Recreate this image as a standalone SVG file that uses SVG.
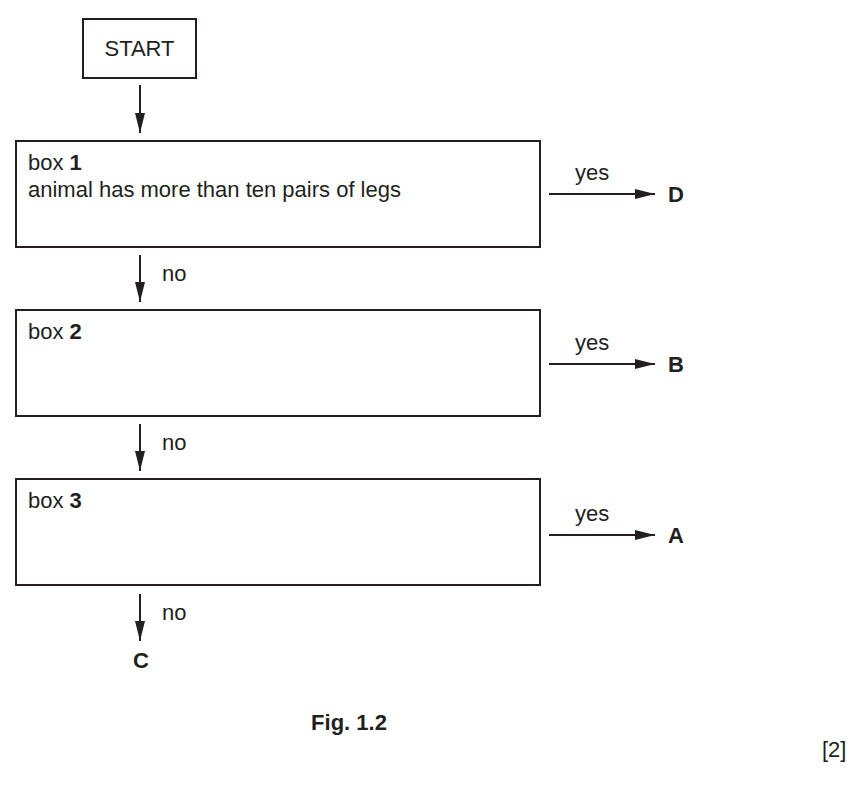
<svg xmlns="http://www.w3.org/2000/svg" width="868" height="785" viewBox="0 0 868 785">
<style>
rect{fill:#fff;stroke:#231f20;stroke-width:2}
text{font-family:"Liberation Sans",Arial,sans-serif;font-size:22px;fill:#231f20}
.b{font-weight:bold}
line{stroke:#231f20;stroke-width:2}
</style>
<defs><marker id="h" markerWidth="20" markerHeight="10" refX="20" refY="5" orient="auto" markerUnits="userSpaceOnUse" viewBox="0 0 20 10"><path d="M0,0L20,5L0,10z" fill="#231f20"/></marker></defs>
<g id="start"><rect x="83" y="19" width="113" height="59"/><text x="139.5" y="56" text-anchor="middle">START</text></g>
<g id="box1"><rect x="16" y="141" width="524" height="106"/><text x="28" y="170">box <tspan class="b">1</tspan></text><text x="28" y="197">animal has more than ten pairs of legs</text></g>
<g id="box2"><rect x="16" y="310" width="524" height="106"/><text x="28" y="339">box <tspan class="b">2</tspan></text></g>
<g id="box3"><rect x="16" y="479" width="524" height="106"/><text x="28" y="508">box <tspan class="b">3</tspan></text></g>
<g id="connectors">
<line x1="140" y1="85" x2="140" y2="133" marker-end="url(#h)"/>
<line x1="140" y1="255" x2="140" y2="302" marker-end="url(#h)"/>
<line x1="140" y1="424" x2="140" y2="471" marker-end="url(#h)"/>
<line x1="140" y1="594" x2="140" y2="641" marker-end="url(#h)"/>
<line x1="549" y1="194" x2="655" y2="194" marker-end="url(#h)"/>
<line x1="549" y1="364" x2="655" y2="364" marker-end="url(#h)"/>
<line x1="549" y1="535" x2="655" y2="535" marker-end="url(#h)"/>
<text x="162" y="281">no</text><text x="162" y="450">no</text><text x="162" y="620">no</text>
<text x="575" y="180">yes</text><text x="575" y="350">yes</text><text x="575" y="521">yes</text>
</g>
<text class="b" x="668" y="202">D</text><text class="b" x="668" y="372">B</text><text class="b" x="668" y="543">A</text>
<text class="b" x="133" y="668">C</text>
<text class="b" x="349" y="730" text-anchor="middle">Fig. 1.2</text>
<text x="822" y="757">[2]</text>
</svg>
